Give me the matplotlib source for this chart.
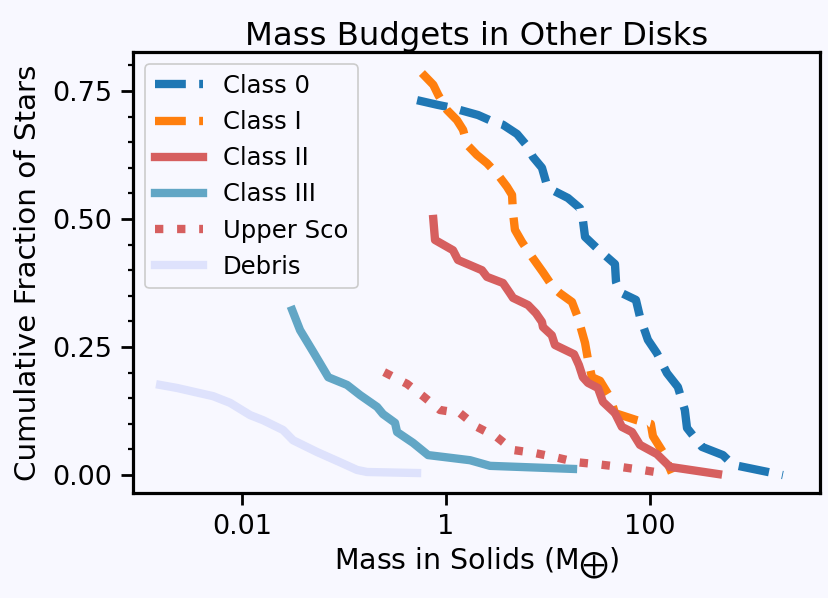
import matplotlib
matplotlib.use("Agg")
import matplotlib.pyplot as plt
from matplotlib.ticker import AutoMinorLocator, NullLocator, FixedLocator, FixedFormatter

# cumulative fractions vs. mass in solids (Earth masses)
class0_mass = [0.52, 0.82, 1.15, 2.06, 2.82, 3.62, 4.97, 6.22, 7.13, 8.73, 9.77, 10.9,
               15.7, 20.6, 22.0, 23.1, 30.2, 45.4, 46.5, 50.8, 72.9, 79.8, 95.5, 117,
               147, 188, 220, 231, 324, 520, 652, 2014]
class0_frac = [0.732, 0.723, 0.717, 0.703, 0.691, 0.684, 0.666, 0.643, 0.621, 0.600, 0.566, 0.557,
               0.541, 0.521, 0.498, 0.465, 0.443, 0.412, 0.377, 0.357, 0.342, 0.309, 0.264, 0.238,
               0.199, 0.172, 0.127, 0.092, 0.055, 0.039, 0.020, 0.000]

class1_mass = [0.58, 0.75, 0.84, 1.02, 1.28, 1.47, 1.61, 2.01, 2.52, 3.24, 3.96, 4.44,
               4.54, 4.74, 5.56, 6.97, 8.93, 11.2, 13.1, 17.2, 19.7, 23.1, 24.7, 27.0,
               32.4, 40.6, 45.4, 74.6, 102, 107, 134, 164]
class1_frac = [0.785, 0.762, 0.742, 0.713, 0.693, 0.674, 0.645, 0.625, 0.609, 0.586, 0.563, 0.547,
               0.512, 0.479, 0.455, 0.426, 0.396, 0.367, 0.355, 0.338, 0.307, 0.258, 0.225, 0.191,
               0.184, 0.152, 0.121, 0.107, 0.100, 0.076, 0.045, 0.004]

class2_mass = [0.75, 0.78, 1.17, 1.31, 2.25, 2.52, 3.62, 4.24, 4.54, 6.37, 7.62, 8.73,
               8.93, 10.9, 11.7, 18.0, 20.1, 22.0, 24.7, 30.9, 34.6, 45.4, 53.1, 66.7,
               79.8, 117, 157, 465]
class2_frac = [0.500, 0.459, 0.439, 0.420, 0.400, 0.387, 0.375, 0.355, 0.346, 0.332, 0.316, 0.299,
               0.289, 0.273, 0.254, 0.236, 0.215, 0.191, 0.180, 0.170, 0.143, 0.121, 0.094, 0.084,
               0.059, 0.041, 0.016, 0.002]

class3_mass = [0.031, 0.037, 0.050, 0.070, 0.107, 0.144, 0.211, 0.241, 0.316, 0.331,
               0.474, 0.667, 0.977, 1.72, 2.70, 17.6]
class3_frac = [0.322, 0.283, 0.240, 0.191, 0.176, 0.156, 0.133, 0.119, 0.102, 0.084,
               0.063, 0.039, 0.035, 0.029, 0.018, 0.012]

usco_mass = [0.247, 0.415, 0.596, 0.873, 1.37, 2.01, 3.16, 4.54, 7.46, 11.7,
             19.2, 30.9, 50.8, 83.6, 131]
usco_frac = [0.201, 0.178, 0.154, 0.127, 0.121, 0.094, 0.074, 0.049, 0.043, 0.035,
             0.025, 0.021, 0.016, 0.010, 0.004]

debris_mass = [0.00157, 0.00231, 0.00346, 0.0052, 0.00762, 0.0120, 0.0161, 0.0252,
               0.0316, 0.0543, 0.0914, 0.134, 0.168, 0.52]
debris_frac = [0.176, 0.170, 0.162, 0.154, 0.141, 0.117, 0.107, 0.088,
               0.068, 0.045, 0.025, 0.010, 0.006, 0.004]

xticks = [0.01, 1, 100]
xtick_labels = ['0.01', '1', '100']

BG = '#F8F8FF'
LW = 6

fig = plt.figure(figsize=(8.29, 5.98), dpi=100, facecolor=BG)
ax = fig.add_axes([0.1604, 0.1756, 0.8286, 0.7374], facecolor=BG)

ax.plot(class0_mass, class0_frac, ls='--', lw=LW, color='#1f77b4', label='Class 0')
ax.plot(class1_mass, class1_frac, ls='--', lw=LW, color='#ff7f0e', label='Class I')
ax.plot(class2_mass, class2_frac, ls='-', lw=LW, color='#d65f5f', label='Class II')
ax.plot(class3_mass, class3_frac, ls='-', lw=LW, color='#62a6c5', label='Class III')
ax.plot(usco_mass, usco_frac, ls=':', lw=LW, color='#d65f5f', label='Upper Sco')
ax.plot(debris_mass, debris_frac, ls='-', lw=LW, color='#dee2fc', label='Debris')

ax.set_xscale('log')
ax.set_xlim(8.5e-4, 4645)
ax.set_ylim(-0.035, 0.826)

ax.xaxis.set_major_locator(FixedLocator(xticks))
ax.xaxis.set_major_formatter(FixedFormatter(xtick_labels))
ax.xaxis.set_minor_locator(NullLocator())
ax.set_yticks([0.0, 0.25, 0.5, 0.75])
ax.yaxis.set_minor_locator(AutoMinorLocator(5))

for s in ax.spines.values():
    s.set_linewidth(2.3)
    s.set_color('black')
ax.tick_params(which='major', length=8.5, width=2.0, pad=6.5, labelsize=19.5)
ax.tick_params(which='minor', length=3.8, width=1.6)

ax.set_title('Mass Budgets in Other Disks', fontsize=23.3, pad=5)
ax.set_xlabel(r'Mass in Solids (M$_{\bigoplus}$)', fontsize=20.5)
ax.set_ylabel('Cumulative Fraction of Stars', fontsize=21.2, labelpad=7)

leg = ax.legend(loc='upper left', fontsize=17.5, facecolor=BG, edgecolor='#cccccc',
                framealpha=1.0)
leg.get_frame().set_linewidth(1.2)

fig.savefig('out.png', dpi=100, facecolor=BG)
